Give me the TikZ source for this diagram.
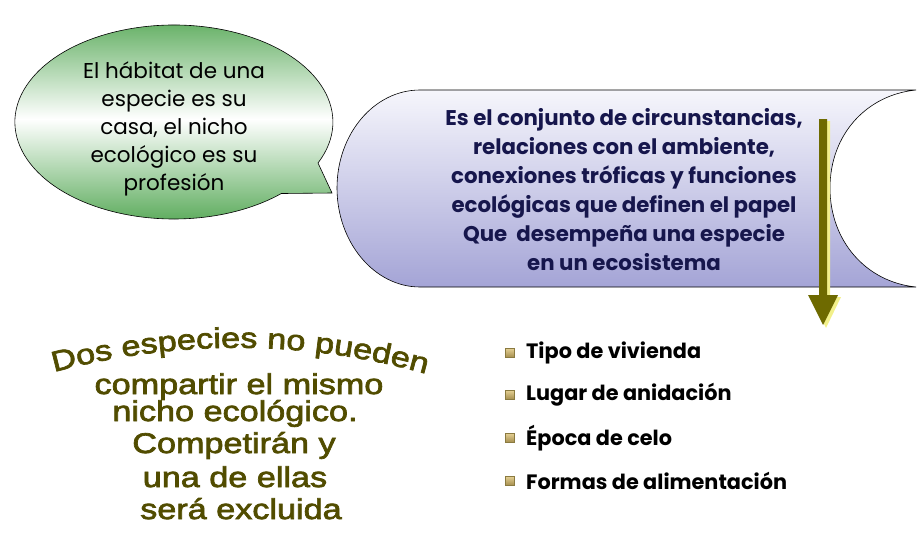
\documentclass[tikz,border=0pt]{standalone}
\usepackage{fontspec}
\setmainfont{Poppins}
\newfontfamily\wafont[FakeStretch=1.2,FakeBold=2.5]{Liberation Sans}
\usetikzlibrary{decorations.text}
\definecolor{bubgreen}{HTML}{55A855}
\definecolor{boxtop}{HTML}{F6F6FC}
\definecolor{boxbot}{HTML}{A4A4D6}
\definecolor{navy}{HTML}{16164C}
\definecolor{olivearr}{HTML}{6E6A00}
\definecolor{arrshadow}{HTML}{F2F08A}
\definecolor{watext}{HTML}{514C00}
\definecolor{bultop}{HTML}{E2CE92}
\definecolor{bulbot}{HTML}{A48C4C}
\definecolor{buledge}{HTML}{8A7A40}
\tikzset{
  bubtext/.style={align=center, inner sep=0pt, font=\fontsize{21.5}{28}\selectfont, text=black},
  boxtext/.style={align=center, inner sep=0pt, font=\bfseries\fontsize{21.3}{29}\selectfont, text=navy},
  bultext/.style={anchor=west, inner sep=0pt, font=\bfseries\fontsize{20.8}{24}\selectfont, text=black},
  bulbox/.style={minimum size=9pt, inner sep=0pt, top color=bultop, bottom color=bulbot, draw=buledge, line width=0.4pt},
  watxt/.style={anchor=base, inner sep=0pt, font=\wafont\fontsize{28.5}{32}\selectfont, text=watext},
}
\begin{document}
\begin{tikzpicture}[x=1pt,y=1pt]
\useasboundingbox (0,0) rectangle (924,-546);
% speech bubble
\path[draw=black, line width=0.6pt, top color=bubgreen, bottom color=bubgreen, middle color=white]
  (318,-163) arc[start angle=-25, end angle=312.5, x radius=159, y radius=97] -- (332,-193) -- cycle;
\node[bubtext] (bt) at (174,-129) {El hábitat de una\\especie es su\\casa, el nicho\\ecológico es su\\profesión};
% stored-data box
\path[draw=black, line width=0.6pt, top color=boxtop, bottom color=boxbot]
  (420,-90) -- (916,-90)
  .. controls (866,-95) and (830,-135) .. (830,-188)
  .. controls (830,-241) and (866,-282) .. (916,-287)
  -- (420,-287)
  .. controls (374,-287) and (337,-242) .. (337,-188)
  .. controls (337,-134) and (374,-90) .. (420,-90) -- cycle;
\node[boxtext] (xt) at (624,-190) {Es el conjunto de circunstancias,\\relaciones con el ambiente,\\conexiones tróficas y funciones\\ecológicas que definen el papel\\Que \ desempeña una especie\\en un ecosistema};
% arrow
\fill[arrshadow] (822,-121) -- (830,-121) -- (830,-297) -- (841,-297) -- (826,-328) -- (811,-297) -- (822,-297) -- cycle;
\fill[olivearr] (819,-119) -- (827,-119) -- (827,-295) -- (838,-295) -- (823,-325) -- (808,-295) -- (819,-295) -- cycle;
% bullets
\node[bulbox] (b1) at (510,-353) {};
\node[bulbox] (b2) at (510,-395) {};
\node[bulbox] (b3) at (510,-438) {};
\node[bulbox] (b4) at (510,-481) {};
\node[bultext] (t1) at (526,-353) {Tipo de vivienda};
\node[bultext] (t2) at (526,-395) {Lugar de anidación};
\node[bultext] (t3) at (526,-438) {Época de celo};
\node[bultext] (t4) at (526,-481) {Formas de alimentación};
% word art
\path[decorate, decoration={text along path, text align=center,
  text={|\wafont\fontsize{28.5}{32}\selectfont\color{watext}|Dos especies no pueden}}]
  (40,-376) .. controls (170,-338) and (310,-338) .. (440,-378);
\node[watxt] (w2) at (239,-394) {compartir el mismo};
\node[watxt] (w3) at (235,-421) {nicho ecológico.};
\node[watxt] (w4) at (234,-453) {Competirán y};
\node[watxt] (w5) at (235,-487) {una de ellas};
\node[watxt] (w6) at (241,-519) {será excluida};
\end{tikzpicture}
\end{document}
